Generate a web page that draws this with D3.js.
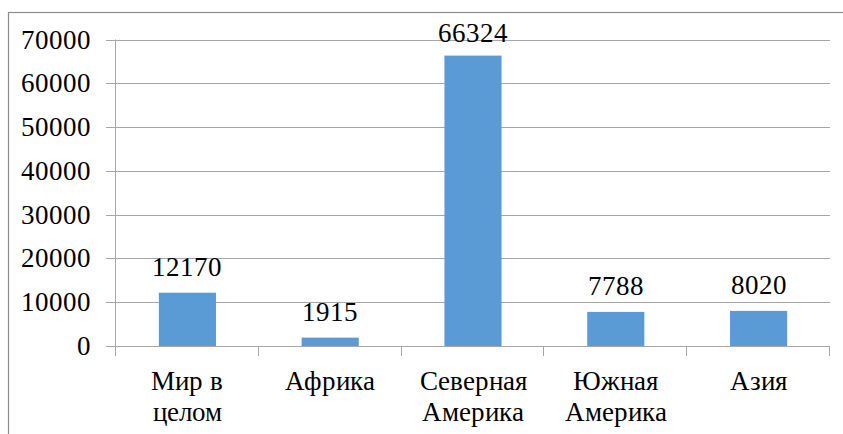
<!DOCTYPE html>
<html>
<head>
<meta charset="utf-8">
<script src="https://d3js.org/d3.v7.min.js"></script>
<style>
  @font-face {
    font-family: "ChartSerif";
    src: local("Liberation Serif"), local("LiberationSerif"), local("LiberationSerif-Regular"),
         local("Tinos"), local("Tinos-Regular"), local("Times New Roman"), local("TimesNewRomanPSMT");
  }
  body { margin: 0; }
  .lbl { font-family: "ChartSerif"; font-size: 27px; fill: #000; }
</style>
</head>
<body>
<script>
// data
var categories = ["Мир в\nцелом", "Африка", "Северная\nАмерика", "Южная\nАмерика", "Азия"];
var values = [12170, 1915, 66324, 7788, 8020];
var yTicks = [0, 10000, 20000, 30000, 40000, 50000, 60000, 70000];

var W = 843, H = 434;
var plot = { left: 116, right: 830, top: 39.5, bottom: 346 };

var svg = d3.select("body").append("svg")
    .attr("width", W)
    .attr("height", H);

// outer frame (only top and left edges are visible)
svg.append("rect")
    .attr("x", 8.5).attr("y", 12.5)
    .attr("width", 900).attr("height", 500)
    .attr("fill", "none")
    .attr("stroke", "#8c8c8c")
    .attr("stroke-width", 1.2);

var x = d3.scaleBand()
    .domain(categories)
    .range([plot.left, plot.right])
    .paddingInner(0.6)
    .paddingOuter(0.3);

var y = d3.scaleLinear()
    .domain([0, 70000])
    .range([plot.bottom, plot.top]);

// gridlines
svg.selectAll("line.grid")
    .data(yTicks.filter(function (d) { return d > 0; }))
    .enter().append("line")
    .attr("class", "grid")
    .attr("x1", plot.left).attr("x2", plot.right)
    .attr("y1", function (d) { return Math.round(y(d)) + 0.5; })
    .attr("y2", function (d) { return Math.round(y(d)) + 0.5; })
    .attr("stroke", "#a6a6a6");

// y tick marks
svg.selectAll("line.ytick")
    .data(yTicks)
    .enter().append("line")
    .attr("class", "ytick")
    .attr("x1", plot.left - 10).attr("x2", plot.left)
    .attr("y1", function (d) { return Math.round(y(d)) + 0.5; })
    .attr("y2", function (d) { return Math.round(y(d)) + 0.5; })
    .attr("stroke", "#a6a6a6");

// y tick labels
svg.selectAll("text.ylab")
    .data(yTicks)
    .enter().append("text")
    .attr("class", "ylab lbl")
    .attr("x", plot.left - 25)
    .attr("y", function (d) { return y(d) + 9; })
    .attr("text-anchor", "end")
    .text(function (d) { return d; });

// bars
svg.selectAll("rect.bar")
    .data(values)
    .enter().append("rect")
    .attr("class", "bar")
    .attr("x", function (d, i) { return x(categories[i]); })
    .attr("y", function (d) { return y(d); })
    .attr("width", x.bandwidth())
    .attr("height", function (d) { return y(0) - y(d); })
    .attr("fill", "#5b9bd5");

// value labels
svg.selectAll("text.val")
    .data(values)
    .enter().append("text")
    .attr("class", "val lbl")
    .attr("x", function (d, i) { return x(categories[i]) + x.bandwidth() / 2; })
    .attr("y", function (d) { return Math.max(y(d) - 17, 42); })
    .attr("text-anchor", "middle")
    .text(function (d) { return d; });

// x axis: baseline and boundary ticks
var step = (plot.right - plot.left) / categories.length;
var bounds = d3.range(categories.length + 1).map(function (i) { return plot.left + i * step; });

svg.append("line")
    .attr("x1", plot.left - 10).attr("x2", plot.right)
    .attr("y1", y(0) + 0.5).attr("y2", y(0) + 0.5)
    .attr("stroke", "#a6a6a6");
svg.append("line")
    .attr("x1", plot.left - 0.5).attr("x2", plot.left - 0.5)
    .attr("y1", plot.top).attr("y2", y(0) + 10)
    .attr("stroke", "#a6a6a6");
svg.selectAll("line.xtick")
    .data(bounds.slice(1))
    .enter().append("line")
    .attr("class", "xtick")
    .attr("x1", function (d) { return Math.round(d) - 0.5; })
    .attr("x2", function (d) { return Math.round(d) - 0.5; })
    .attr("y1", y(0)).attr("y2", y(0) + 10)
    .attr("stroke", "#a6a6a6");

// category labels, one text per line
var catLines = [];
categories.forEach(function (c) {
    c.split("\n").forEach(function (line, j) {
        catLines.push({ cat: c, line: line, row: j });
    });
});
svg.selectAll("text.cat")
    .data(catLines)
    .enter().append("text")
    .attr("class", "cat lbl")
    .attr("x", function (d) { return x(d.cat) + x.bandwidth() / 2; })
    .attr("y", function (d) { return 390 + d.row * 31; })
    .attr("text-anchor", "middle")
    .text(function (d) { return d.line; });
</script>
</body>
</html>
